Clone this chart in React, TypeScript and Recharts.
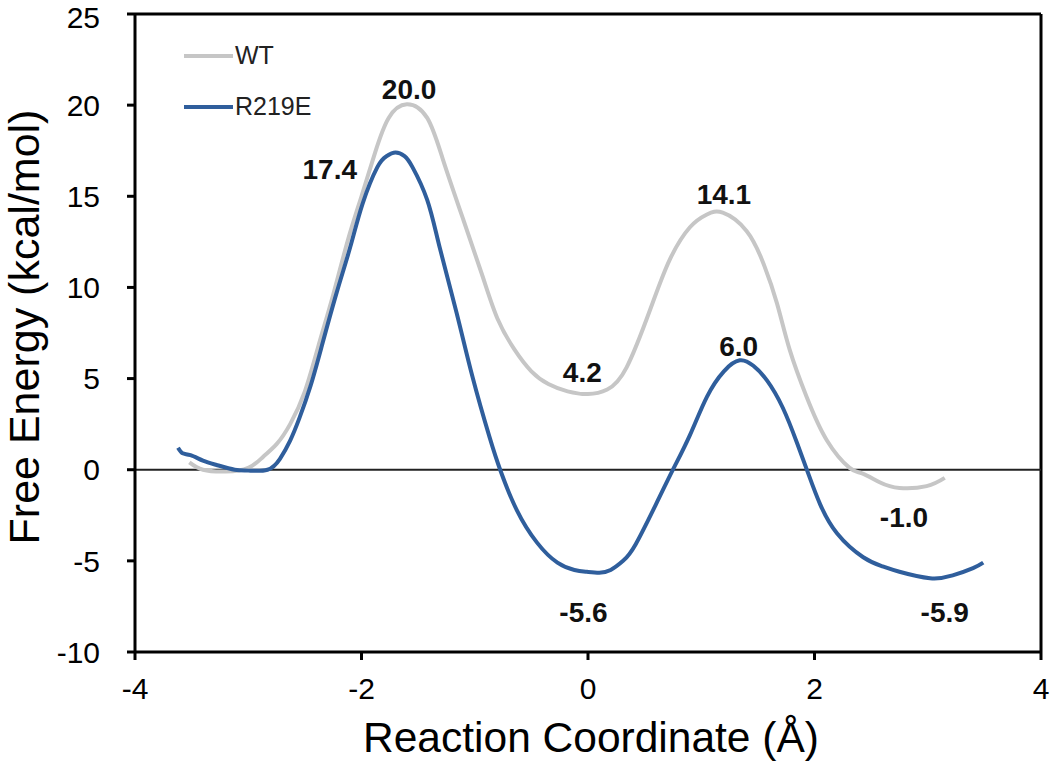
import React from 'react';
import {
  LineChart,
  Line,
  XAxis,
  YAxis,
  ReferenceLine,
  ReferenceDot,
  Legend,
} from 'recharts';

const FONT = '"Liberation Sans", Arial, Helvetica, sans-serif';

// free energy profiles (x in Å, y in kcal/mol)
const wtX = [-3.52, -3.4, -3.2, -3.0, -2.87, -2.75, -2.63, -2.5, -2.38, -2.25, -2.12, -2.0, -1.88, -1.76, -1.6, -1.42, -1.28, -1.1, -0.93, -0.8, -0.65, -0.5, -0.35, -0.18, 0.0, 0.17, 0.34, 0.55, 0.72, 0.9, 1.05, 1.19, 1.4, 1.55, 1.67, 1.78, 1.93, 2.11, 2.31, 2.42, 2.58, 2.75, 2.99, 3.15];
const wtY = [0.4, 0.0, -0.1, 0.1, 0.7, 1.4, 2.5, 4.3, 6.8, 9.6, 12.6, 15.0, 17.4, 19.3, 20.05, 19.3, 17.0, 13.7, 10.6, 8.3, 6.6, 5.4, 4.7, 4.3, 4.15, 4.4, 5.6, 8.8, 11.5, 13.3, 14.0, 14.1, 13.1, 11.3, 9.1, 6.6, 4.0, 1.6, 0.1, -0.2, -0.7, -1.0, -0.9, -0.45];

const mutX = [-3.62, -3.58, -3.51, -3.4, -3.28, -3.12, -3.0, -2.83, -2.72, -2.63, -2.55, -2.45, -2.35, -2.22, -2.1, -1.99, -1.86, -1.78, -1.7, -1.62, -1.55, -1.42, -1.31, -1.16, -1.02, -0.87, -0.77, -0.63, -0.45, -0.27, -0.12, -0.01, 0.1, 0.2, 0.31, 0.42, 0.6, 0.75, 0.9, 1.05, 1.2, 1.34, 1.46, 1.58, 1.72, 1.85, 1.95, 2.05, 2.2, 2.43, 2.6, 2.75, 3.02, 3.22, 3.4, 3.49];
const mutY = [1.2, 0.9, 0.8, 0.5, 0.26, 0.0, -0.05, 0.0, 0.6, 1.6, 2.8, 4.6, 6.8, 9.7, 12.2, 14.6, 16.6, 17.2, 17.4, 17.2, 16.6, 14.8, 12.2, 8.6, 5.1, 1.8, -0.1, -2.2, -4.0, -5.1, -5.5, -5.6, -5.65, -5.5, -5.0, -4.1, -1.9, 0.0, 1.9, 4.0, 5.4, 6.0, 5.7, 4.9, 3.4, 1.4, -0.3, -1.9, -3.5, -4.8, -5.3, -5.6, -5.95, -5.8, -5.4, -5.1];

// value labels (text, anchor x, anchor y in data units)
const noteText = ['20.0', '17.4', '14.1', '4.2', '6.0', '-1.0', '-5.6', '-5.9'];
const noteX = [-1.58, -2.28, 1.2, -0.05, 1.33, 2.79, -0.04, 3.15];
const noteY = [20.9, 16.5, 15.1, 5.35, 6.8, -2.6, -7.8, -7.8];

const xTicks = [-4, -2, 0, 2, 4];
const yTicks = [-10, -5, 0, 5, 10, 15, 20, 25];

const seriesNames = ['WT', 'R219E'];
const seriesColors = ['#c6c6c6', '#2f5e9c'];

const wtData = wtX.map((x, i) => ({ x, y: wtY[i] }));
const mutData = mutX.map((x, i) => ({ x, y: mutY[i] }));

const LegendBox = () => (
  <div style={{ fontFamily: FONT, fontSize: 25, color: '#222' }}>
    {seriesNames.map((name, i) => (
      <div key={name} style={{ display: 'flex', alignItems: 'center', height: 51 }}>
        <svg width={49} height={6}>
          <line x1={0} y1={3} x2={49} y2={3} stroke={seriesColors[i]} strokeWidth={4} />
        </svg>
        <span style={{ marginLeft: 2 }}>{name}</span>
      </div>
    ))}
  </div>
);

const YTitle = () => (
  <text
    x={39}
    y={327}
    transform="rotate(-90 39 327)"
    textAnchor="middle"
    fontFamily={FONT}
    fontSize={43}
    fill="#000"
  >
    Free Energy (kcal/mol)
  </text>
);

const XTitle = () => (
  <text x={591} y={752} textAnchor="middle" fontFamily={FONT} fontSize={42.5} fill="#000">
    Reaction Coordinate (Å)
  </text>
);

export default function App() {
  return (
    <div style={{ position: 'absolute', left: 0, top: 0, background: '#fff' }}>
      <LineChart width={1050} height={764} margin={{ top: 14, right: 9, left: 15, bottom: 52 }}>
        <XAxis
          type="number"
          dataKey="x"
          domain={[-4, 4]}
          ticks={xTicks}
          allowDataOverflow
          height={60}
          axisLine={{ stroke: '#000', strokeWidth: 3 }}
          tickLine={{ stroke: '#000', strokeWidth: 3 }}
          tickSize={8}
          tickMargin={18}
          tick={{ fontSize: 30, fill: '#000', fontFamily: FONT }}
          label={<XTitle />}
        />
        <YAxis
          type="number"
          dataKey="y"
          domain={[-10, 25]}
          ticks={yTicks}
          allowDataOverflow
          width={120}
          axisLine={{ stroke: '#000', strokeWidth: 3 }}
          tickLine={{ stroke: '#000', strokeWidth: 3 }}
          tickSize={8}
          tickMargin={27}
          tick={{ fontSize: 30, fill: '#000', fontFamily: FONT }}
          label={<YTitle />}
        />
        <ReferenceLine y={25} stroke="#000" strokeWidth={3} />
        <ReferenceLine x={4} stroke="#000" strokeWidth={3} />
        <ReferenceLine y={0} stroke="#222" strokeWidth={2} />
        <Legend
          layout="horizontal"
          verticalAlign="middle"
          align="center"
          content={<LegendBox />}
          wrapperStyle={{ left: 184, top: 30, width: 'auto' }}
        />
        <Line
          data={wtData}
          dataKey="y"
          name={seriesNames[0]}
          type="natural"
          stroke={seriesColors[0]}
          strokeWidth={4}
          dot={false}
          isAnimationActive={false}
        />
        <Line
          data={mutData}
          dataKey="y"
          name={seriesNames[1]}
          type="natural"
          stroke={seriesColors[1]}
          strokeWidth={4}
          dot={false}
          isAnimationActive={false}
        />
        {noteText.map((t, i) => (
          <ReferenceDot
            key={t + i}
            x={noteX[i]}
            y={noteY[i]}
            r={0}
            fill="none"
            stroke="none"
            label={{
              value: t,
              position: 'center',
              fontSize: 28,
              fontWeight: 'bold',
              fill: '#111',
              fontFamily: FONT,
            }}
          />
        ))}
      </LineChart>
    </div>
  );
}
